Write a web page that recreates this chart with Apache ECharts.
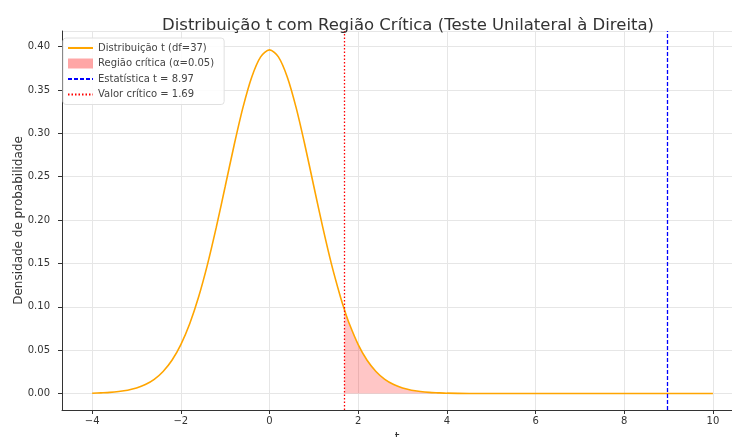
<!DOCTYPE html>
<html><head><meta charset="utf-8">
<script src="https://cdn.jsdelivr.net/npm/echarts@6/dist/echarts.min.js"></script>
<style>html,body{margin:0;padding:0;background:#fff}#c{width:732px;height:437px}</style>
</head><body><div id="c"></div>
<script>
// t values and density (df = 37)
var tValues = [-4.0,-3.8,-3.6,-3.4,-3.2,-3.0,-2.8,-2.6,-2.4,-2.2,-2.0,-1.8,-1.6,-1.4,-1.2,-1.0,-0.8,-0.6,-0.4,-0.2,0.0,0.2,0.4,0.6,0.8,1.0,1.2,1.4,1.6,1.69,1.8,2.0,2.2,2.4,2.6,2.8,3.0,3.2,3.4,3.6,3.8,4.0,4.5,5.0,6.0,7.0,8.0,9.0,10.0];
var density = [0.0004,0.0008,0.0013,0.0023,0.0038,0.0063,0.0103,0.0163,0.0254,0.0383,0.0564,0.0804,0.1112,0.1486,0.1918,0.2387,0.2860,0.3296,0.3650,0.3882,0.3962,0.3882,0.3650,0.3296,0.2860,0.2387,0.1918,0.1486,0.1112,0.0965,0.0804,0.0564,0.0383,0.0254,0.0163,0.0103,0.0063,0.0038,0.0023,0.0013,0.0008,0.0004,0.0001,0.0000,0.0000,0.0000,0.0000,0.0000,0.0000];
var criticalValue = 1.69;
var tStatistic = 8.97;
var seriesNames = ['Distribuição t (df=37)','Região crítica (α=0.05)','Estatística t = 8.97','Valor crítico = 1.69'];

var curve = tValues.map(function(t,i){return [t, density[i]];});
var region = curve.filter(function(p){return p[0] >= criticalValue;});

var chart = echarts.init(document.getElementById('c'));
var font = 'DejaVu Sans';
var hidden = {opacity:0, borderWidth:0};
chart.setOption({
  animation:false,
  textStyle:{fontFamily:font},
  title:{text:'Distribuição t com Região Crítica (Teste Unilateral à Direita)',left:403,textAlign:'center',top:12,
    textStyle:{fontFamily:font,fontSize:16.5,fontWeight:'normal',color:'#333'}},
  grid:{left:62,right:0,top:31,bottom:27,outerBoundsMode:'none',containLabel:false},
  legend:{orient:'vertical',left:63,top:38,itemWidth:25,itemHeight:10,itemGap:5.5,
    backgroundColor:'rgba(255,255,255,0.85)',borderColor:'#e0e0e0',borderWidth:1,borderRadius:3,padding:[5,10,5,4],
    textStyle:{fontFamily:font,fontSize:10,color:'#444'},
    data:[{name:seriesNames[0],itemStyle:hidden},
          {name:seriesNames[1],icon:'rect',itemStyle:{color:'rgba(255,0,0,0.35)'}},
          {name:seriesNames[2],itemStyle:hidden},
          {name:seriesNames[3],itemStyle:hidden}]},
  xAxis:{type:'value',min:-4.68,max:10.43,splitNumber:7,name:'t',nameLocation:'middle',nameGap:22,nameMoveOverlap:false,
    nameTextStyle:{fontFamily:font,fontSize:12,color:'#333'},
    axisLine:{onZero:false,lineStyle:{color:'#333',width:1}},
    axisTick:{show:true,length:4,lineStyle:{color:'#333'}},
    axisLabel:{showMinLabel:false,showMaxLabel:false,fontSize:10,color:'#333',margin:6,
      formatter:function(v){return v<0?('\u2212'+Math.abs(v)):String(v);}},
    splitLine:{show:true,lineStyle:{color:'#e6e6e6',width:1}}},
  yAxis:{type:'value',min:-0.019,max:0.418,splitNumber:9,name:'Densidade de probabilidade',nameLocation:'middle',nameGap:37,nameMoveOverlap:false,
    nameTextStyle:{fontFamily:font,fontSize:12,color:'#333'},
    axisLine:{show:true,onZero:false,lineStyle:{color:'#333',width:1}},
    axisTick:{show:true,length:4,lineStyle:{color:'#333'}},
    axisLabel:{showMinLabel:false,showMaxLabel:false,fontSize:10,color:'#333',margin:12,
      formatter:function(v){return v.toFixed(2);}},
    splitLine:{show:true,lineStyle:{color:'#e6e6e6',width:1}}},
  series:[
    {name:seriesNames[1],type:'line',data:region,showSymbol:false,symbol:'none',smooth:0.3,
      lineStyle:{width:0},areaStyle:{color:'rgba(255,0,0,0.32)',origin:0},z:1},
    {name:seriesNames[0],type:'line',data:curve,showSymbol:false,symbol:'none',smooth:0.3,
      lineStyle:{color:'#FFA500',width:1.6},itemStyle:{color:'#FFA500'},z:3},
    {name:seriesNames[2],type:'line',data:[],symbol:'none',lineStyle:{color:'#0000ff',type:[4,2],width:1.3},itemStyle:{color:'#0000ff'},
      markLine:{silent:true,symbol:'none',label:{show:false},lineStyle:{color:'#0000ff',type:[4,2],width:1.3},data:[{xAxis:tStatistic}]}},
    {name:seriesNames[3],type:'line',data:[],symbol:'none',lineStyle:{color:'#ff0000',type:[1.5,2],width:1.3},itemStyle:{color:'#ff0000'},
      markLine:{silent:true,symbol:'none',label:{show:false},lineStyle:{color:'#ff0000',type:[1.5,2],width:1.3},data:[{xAxis:criticalValue}]}}
  ]
});
</script></body></html>
